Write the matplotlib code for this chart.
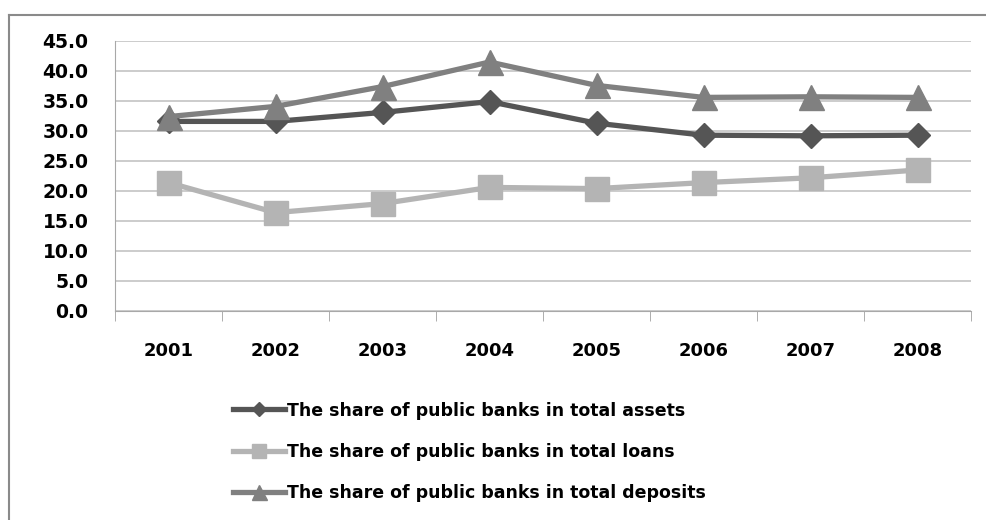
import matplotlib.pyplot as plt
from matplotlib.lines import Line2D

# share of public banks (%), by year
years = ['2001', '2002', '2003', '2004', '2005', '2006', '2007', '2008']
assets = [31.6, 31.6, 33.1, 34.9, 31.3, 29.3, 29.2, 29.3]
loans = [21.4, 16.4, 17.9, 20.6, 20.4, 21.4, 22.2, 23.5]
deposits = [32.4, 34.1, 37.4, 41.5, 37.6, 35.6, 35.7, 35.6]

labels = ['The share of public banks in total assets',
          'The share of public banks in total loans',
          'The share of public banks in total deposits']

plt.rcParams['font.family'] = 'DejaVu Sans'
plt.rcParams['font.weight'] = 'bold'

fig = plt.figure(figsize=(9.87, 5.2), dpi=100)
ax = fig.add_axes([115 / 987, 1 - 311 / 520, (971 - 115) / 987, 270 / 520])

x = list(range(len(years)))
ax.plot(x, assets, color='#555555', lw=3.8, marker='D', ms=12, label=labels[0])
ax.plot(x, loans, color='#b4b4b4', lw=3.8, marker='s', ms=17, label=labels[1])
ax.plot(x, deposits, color='#808080', lw=3.8, marker='^', ms=18, label=labels[2])

ax.set_xlim(-0.5, len(years) - 0.5)
ax.set_ylim(0, 45)
ax.set_yticks([i * 5 for i in range(10)])
ax.set_yticklabels([f'{i * 5:.1f}' for i in range(10)])
ax.set_xticks(x)
ax.set_xticklabels(years)
ax.set_xticks([i - 0.5 for i in range(len(years) + 1)], minor=True)
ax.tick_params(axis='x', which='major', length=0, pad=22, labelsize=13)
ax.tick_params(axis='x', which='minor', length=7, color='#a0a0a0', direction='out')
ax.tick_params(axis='y', length=0, pad=19, labelsize=13.5)

ax.yaxis.grid(True, color='#c4c4c4', lw=1.2)
ax.set_axisbelow(True)
for s in ['top', 'right']:
    ax.spines[s].set_visible(False)
ax.spines['left'].set_color('#a8a8a8')
ax.spines['bottom'].set_color('#a8a8a8')

# outer chart border (left and top only)
fig.add_artist(Line2D([9 / 987, 9 / 987], [0, 1 - 15 / 520], color='#8a8a8a', lw=1.5))
fig.add_artist(Line2D([9 / 987, 1], [1 - 15 / 520, 1 - 15 / 520], color='#8a8a8a', lw=1.5))

fig.legend(loc='center left', bbox_to_anchor=(233 / 987, 1 - 452 / 520),
           frameon=False, borderpad=0, borderaxespad=0, fontsize=12.5,
           handlelength=3.0, handletextpad=0.1, labelspacing=1.35, markerscale=0.6)

fig.savefig('out.png', dpi=100)
